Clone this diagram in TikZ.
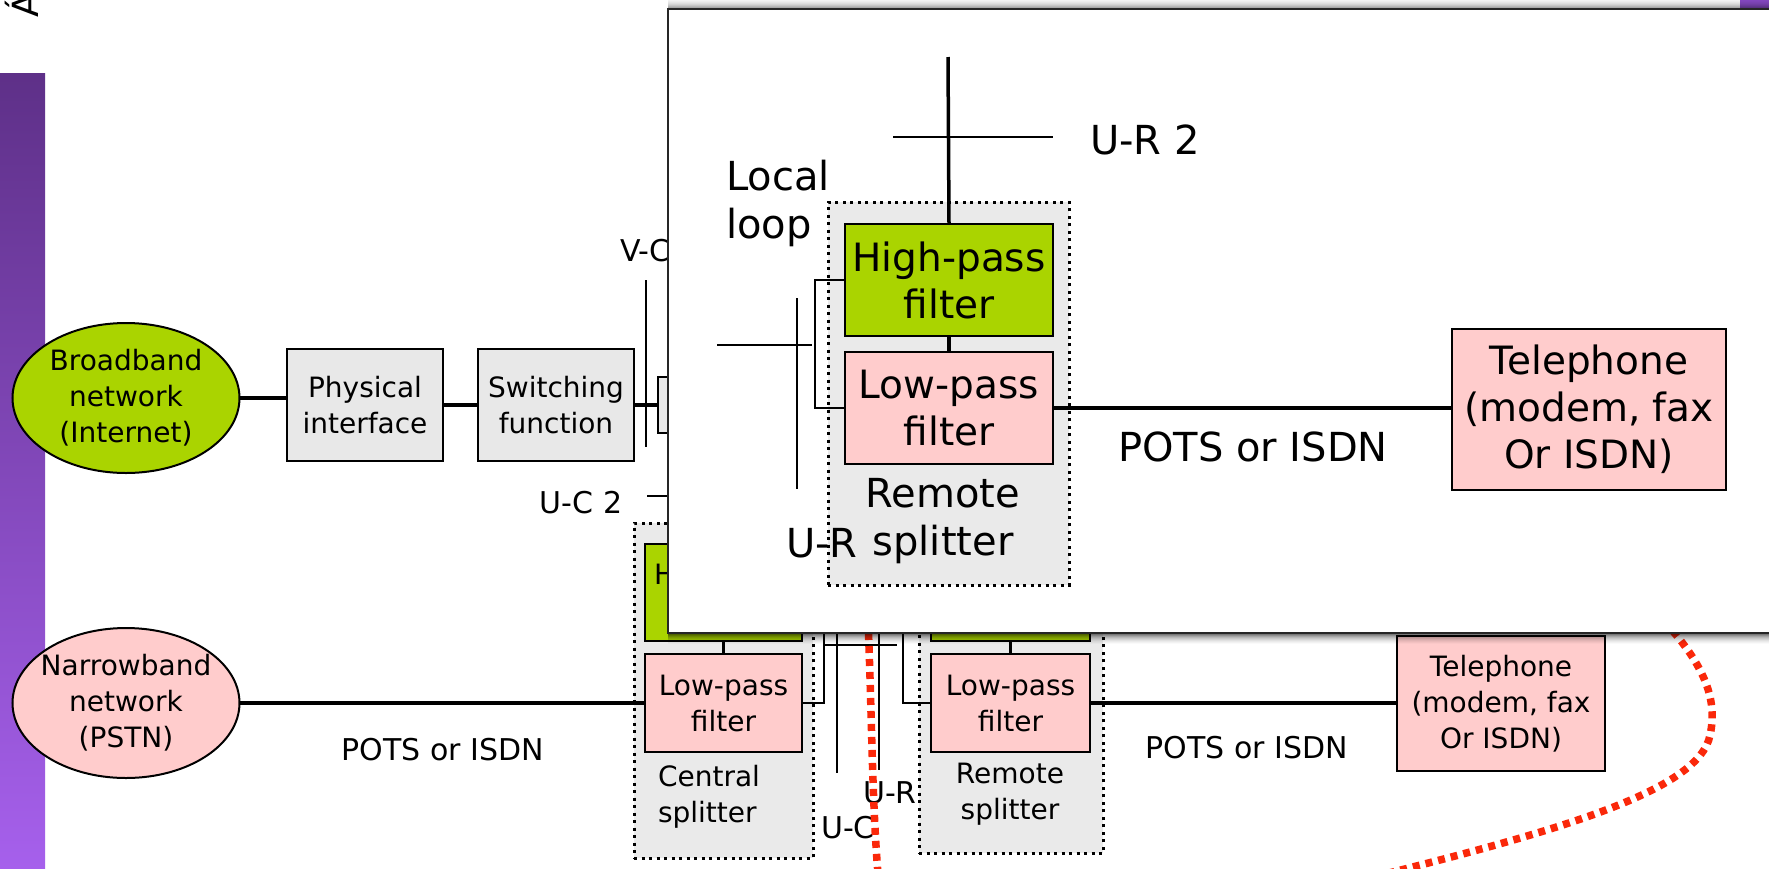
\documentclass[tikz,border=0pt]{standalone}
\usepackage{fontspec}
\setmainfont{DejaVu Sans}
\usetikzlibrary{shapes.geometric}
\definecolor{hpgreen}{RGB}{170,212,0}
\definecolor{lppink}{RGB}{255,204,204}
\definecolor{boxgray}{RGB}{232,232,232}
\definecolor{splitgray}{RGB}{234,234,234}
\definecolor{purpletop}{RGB}{94,48,136}
\definecolor{purplebot}{RGB}{166,96,236}
\definecolor{purplecorner}{RGB}{138,76,200}
\definecolor{dotred}{RGB}{250,40,10}
\tikzset{
  every node/.style={inner sep=0pt, outer sep=0pt},
  smallfont/.style={font=\fontsize{28}{36}\selectfont},
  bigfont/.style={font=\fontsize{39}{47}\selectfont},
  lbl/.style={font=\fontsize{30}{36}\selectfont},
  biglbl/.style={font=\fontsize{40}{48}\selectfont, align=center},
  graybox/.style={draw, line width=2pt, fill=boxgray, align=center, smallfont},
  hpf/.style={draw, line width=2pt, fill=hpgreen, align=center},
  lpf/.style={draw, line width=2pt, fill=lppink, align=center},
  splitbox/.style={draw, line width=3pt, dash pattern=on 3pt off 4.5pt, fill=splitgray},
  netell/.style={ellipse, draw, line width=2pt, minimum width=227pt, minimum height=150pt},
  nettext/.style={align=center, smallfont},
  wire/.style={line width=3.5pt},
  thinwire/.style={line width=2pt},
  reddots/.style={dotred, line width=7.5pt, dash pattern=on 7pt off 6pt}
}
\begin{document}
\begin{tikzpicture}[x=1pt,y=-1pt]
\useasboundingbox (0,0) rectangle (1769,868);
\clip (0,0) rectangle (1769,868);
\fill[white] (0,0) rectangle (1769,868);

% slide decorations
\shade[top color=purpletop, bottom color=purplebot] (0,73) rectangle (45,868);
\fill[purplecorner] (1740,0) rectangle (1769,8);
\node[rotate=90, font=\fontsize{36}{36}\selectfont] (acc) at (22,5) {Á};

% ---------- bottom layer ----------
\node[netell, fill=hpgreen] (bb) at (126,398) {};
\node[nettext] (bbt) at (bb.center) {Broadband\\network\\(Internet)};
\node[graybox, minimum width=156pt, minimum height=112pt] (phys) at (365,405) {Physical\\interface};
\node[graybox, minimum width=156pt, minimum height=112pt] (swf) at (556,405) {Switching\\function};
\node[draw, line width=2pt, fill=boxgray, minimum width=62pt, minimum height=56pt] (dslam) at (689,405) {};
\draw[wire] (bb.east) -- (bb.east -| phys.west);
\draw[wire] (phys.east) -- (swf.west);
\draw[wire] (swf.east) -- (dslam.west);
\coordinate (vct) at (646,280);
\coordinate (vcb) at (646,447);
\draw[thinwire] (vct) -- (vcb);
\node[lbl, anchor=west] (vc) at (620,251) {V-C};
\node[lbl] (uc2) at (581,503) {U-C 2};
\coordinate (uc2a) at (647,496);
\coordinate (uc2b) at (700,496);
\draw[thinwire] (uc2a) -- (uc2b);

\node[netell, fill=lppink] (nb) at (126,703) {};
\node[nettext] (nbt) at (nb.center) {Narrowband\\network\\(PSTN)};

% central splitter
\node[splitbox, minimum width=179pt, minimum height=335pt] (cs) at (723.5,690.5) {};
\node[hpf, smallfont, minimum width=157pt, minimum height=97pt] (chp) at (723.5,592.5) {High-pass\\filter};
\node[lpf, smallfont, minimum width=157pt, minimum height=98pt] (clp) at (723.5,703) {Low-pass\\filter};
\draw[wire] (chp.south) -- (clp.north);
\draw[thinwire] (chp.east) -- ++(22,0) |- (clp.east);
\node[smallfont, align=left, anchor=west] (cstext) at (658,797) {Central\\splitter};
\draw[wire] (nb.east) -- (clp.west);
\node[lbl] (pots1) at (443,750) {POTS or ISDN};

% local loop between splitters
\coordinate (lla) at (824,645);
\coordinate (llb) at (897,645);
\draw[thinwire] (lla) -- (llb);
\coordinate (uct) at (837,612);
\coordinate (ucb) at (837,773);
\draw[thinwire] (uct) -- (ucb);
\coordinate (urt) at (879,612);
\coordinate (urb) at (879,770);
\draw[thinwire] (urt) -- (urb);
\node[lbl] (uc) at (848,828) {U-C};

% remote splitter
\node[splitbox, minimum width=184pt, minimum height=330pt] (rs) at (1011,688) {};
\node[hpf, smallfont, minimum width=159pt, minimum height=97pt] (rhp) at (1010.5,592.5) {High-pass\\filter};
\node[lpf, smallfont, minimum width=159pt, minimum height=98pt] (rlp) at (1010.5,703) {Low-pass\\filter};
\draw[wire] (rhp.south) -- (rlp.north);
\draw[thinwire] (rhp.west) -- ++(-28,0) |- (rlp.west);
\node[smallfont, align=center] (rstext) at (1010,794) {Remote\\splitter};
\node[lbl] (ur) at (890,793) {U-R};
\node[lpf, smallfont, minimum width=208pt, minimum height=135pt] (tel) at (1501,703.5) {Telephone\\(modem, fax\\Or ISDN)};
\draw[wire] (rlp.east) -- (rlp.east -| tel.west);
\node[lbl] (pots2) at (1247,748) {POTS or ISDN};

% red dotted curves
\draw[reddots] (1655,612) .. controls (1705,662) and (1718,700) .. (1710,735)
  .. controls (1700,790) and (1560,830) .. (1385,874);
\draw[reddots] (868,620) .. controls (872,720) and (872,800) .. (878,874);

% ---------- zoomed inset ----------
\foreach \i/\o in {1/0.35,2/0.28,3/0.22,4/0.17,5/0.13,6/0.10,7/0.07,8/0.05,9/0.03,10/0.02}{
  \draw[line width=1.1pt, black, opacity=\o] (668,{633+\i}) -- (1769,{633+\i});
  \draw[line width=1.1pt, black, opacity=\o*0.6] (668,{9-\i}) -- (1769,{9-\i});
}
\fill[white] (668,9) rectangle (1790,633);
\draw[line width=1.6pt, black!85] (1790,9) -- (668,9) -- (668,633) -- (1790,633);

\node[splitbox, minimum width=241pt, minimum height=383pt] (irs) at (948.5,393.5) {};
\node[hpf, bigfont, minimum width=208pt, minimum height=112pt] (ihp) at (949,280) {High-pass\\filter};
\node[lpf, bigfont, minimum width=208pt, minimum height=112pt] (ilp) at (949,408) {Low-pass\\filter};
\draw[wire] (ihp.south) -- (ilp.north);
\draw[thinwire] (ihp.west) -- ++(-30,0) |- (ilp.west);
\coordinate (ila) at (717,345);
\coordinate (ilb) at (812,345);
\draw[thinwire] (ila) -- (ilb);
\coordinate (iurt) at (797,298);
\coordinate (iurb) at (797,489);
\draw[thinwire] (iurt) -- (iurb);
\coordinate (ur2top) at (948,57);
\draw[wire] (ur2top) -- (ihp.north);
\coordinate (ur2a) at (893,137);
\coordinate (ur2b) at (1053,137);
\draw[thinwire] (ur2a) -- (ur2b);
\node[biglbl, anchor=west] (ur2) at (1090,140) {U-R 2};
\node[biglbl, align=left, anchor=west] (ll) at (726,203) {Local\\loop};
\node[lpf, bigfont, minimum width=274pt, minimum height=161pt] (itel) at (1589,409.5) {Telephone\\(modem, fax\\Or ISDN)};
\draw[wire] (ilp.east) -- (ilp.east -| itel.west);
\node[biglbl] (ipots) at (1253,447) {POTS or ISDN};
\node[biglbl] (irstext) at (943,521) {Remote\\splitter};
\node[biglbl] (iur) at (822,543) {U-R};
\end{tikzpicture}
\end{document}
